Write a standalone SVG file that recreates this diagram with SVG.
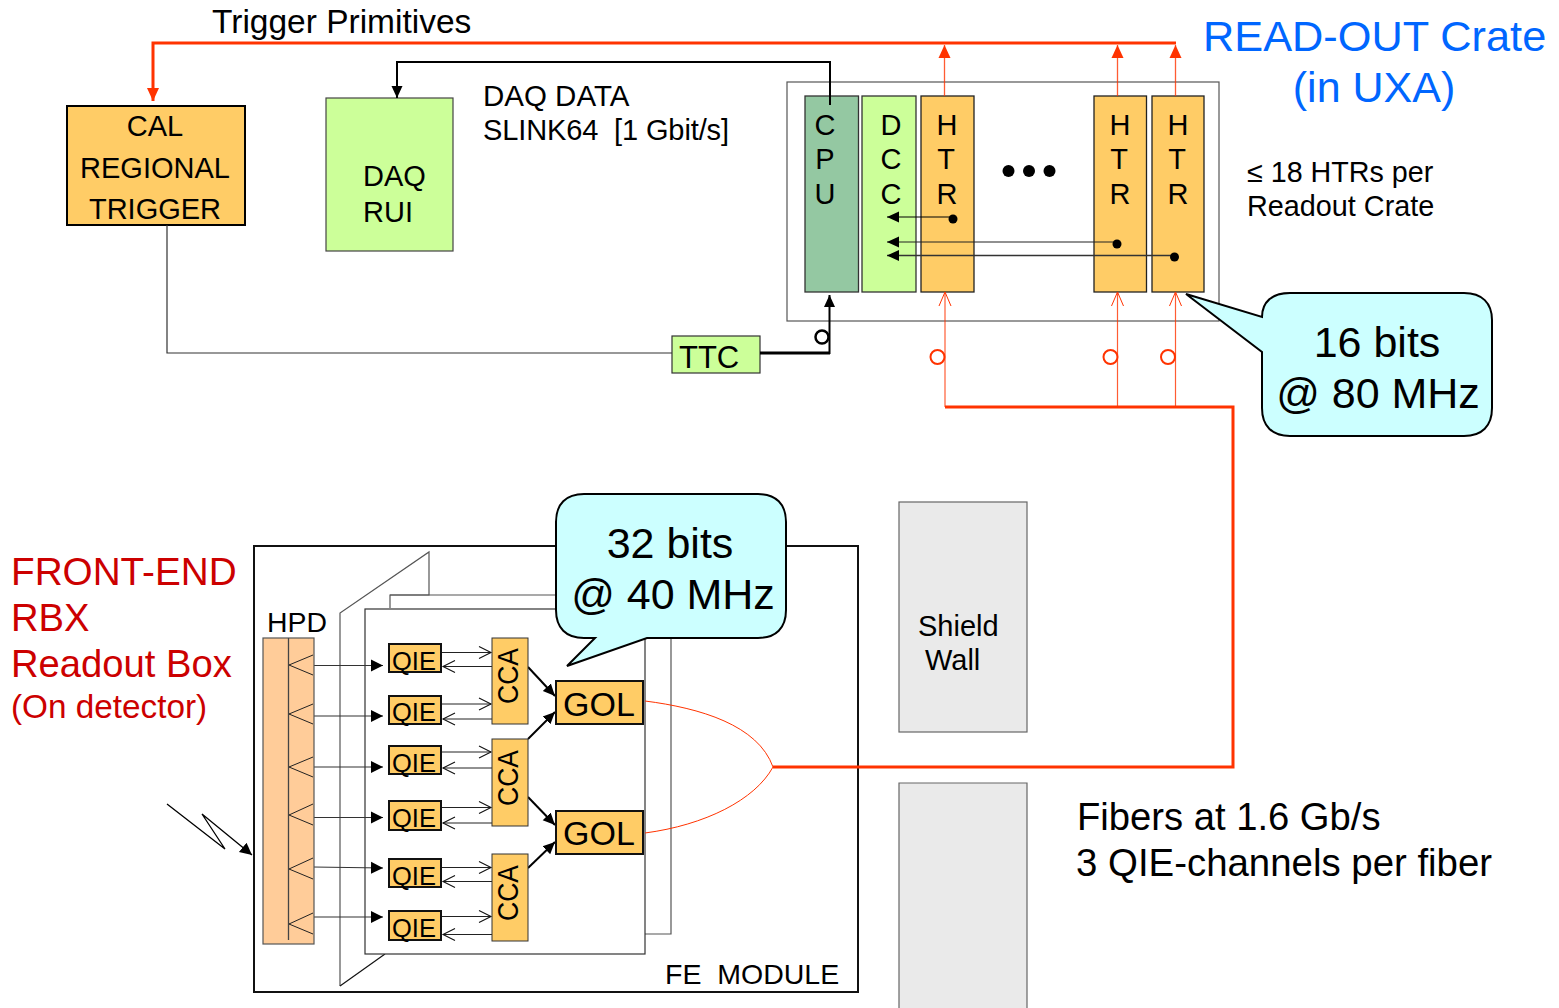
<svg xmlns="http://www.w3.org/2000/svg" width="1559" height="1008" viewBox="0 0 1559 1008">
<style>
text{font-family:"Liberation Sans",Arial,sans-serif;fill:#000}
.orange{fill:#ffcc66;stroke:#222;stroke-width:1.3}
.boxed{fill:#ffcc66;stroke:#111;stroke-width:2}
.cca{fill:#ffcc66;stroke:#333;stroke-width:1}
.gf{stroke:#555;stroke-width:1.2;fill:#fff}
.thin{stroke:#111;stroke-width:1.2;fill:none}
.red{stroke:#ff3300;fill:none}
.fan{stroke:#222;stroke-width:1;fill:none}
.s29{font-size:29px}
.bubble{fill:#ccffff;stroke:#000;stroke-width:2}
.m{text-anchor:middle}
.blue{fill:#0066ff}
.dred{fill:#cc0000}
</style>
<defs>
<marker id="ab" markerUnits="userSpaceOnUse" markerWidth="14" markerHeight="14" refX="12" refY="6.5" orient="auto"><path d="M0 0.5L12 6.5L0 12.5Z" fill="#000"/></marker>
<marker id="abs" markerUnits="userSpaceOnUse" markerWidth="14" markerHeight="14" refX="12" refY="6.5" orient="auto"><path d="M0 1L12 6.5L0 12Z" fill="#000"/></marker>
<marker id="rb" markerUnits="userSpaceOnUse" markerWidth="16" markerHeight="16" refX="13" refY="7" orient="auto"><path d="M0 1L13 7L0 13Z" fill="#ff3300"/></marker>
<marker id="ro" markerUnits="userSpaceOnUse" markerWidth="16" markerHeight="16" refX="14" refY="7" orient="auto"><path d="M0 1L14 7L0 13" fill="none" stroke="#ff3300" stroke-width="1"/></marker>
<marker id="bo" markerUnits="userSpaceOnUse" markerWidth="16" markerHeight="16" refX="13" refY="7" orient="auto"><path d="M1 1L13 7L1 13" fill="none" stroke="#111" stroke-width="1.1"/></marker>
</defs>

<g id="crate-frame"><rect x="787" y="82" width="432" height="239" class="gf"/></g>
<g id="fe-module"><rect x="254" y="546" width="604" height="446" fill="#fff" stroke="#111" stroke-width="2"/></g>
<g id="module-boards">
<path d="M340 986V613L429 552V595H390V608" class="gf"/>
<path d="M390 595H671V934H645" stroke="#555" stroke-width="1.200" fill="none"/>
<path d="M340 986L385 954" class="thin"/>
<rect x="365" y="609" width="280" height="345" fill="#fff" stroke="#333" stroke-width="1.2"/>
</g>

<g id="cal-trigger"><rect x="67" y="106" width="178" height="119" fill="#ffcc66" stroke="#000" stroke-width="2"/>
<text x="155" y="136" class="s29 m">CAL</text><text x="155" y="178" class="s29 m">REGIONAL</text><text x="155" y="219" class="s29 m">TRIGGER</text></g>
<g id="daq-rui"><rect x="326" y="98" width="127" height="153" fill="#ccff99" stroke="#444" stroke-width="1.2"/>
<text x="363" y="186" class="s29">DAQ</text><text x="363" y="222" class="s29">RUI</text></g>
<g id="ttc"><rect x="672" y="336" width="88" height="37" fill="#ccff99" stroke="#333" stroke-width="1.2"/><text x="679" y="368" font-size="31">TTC</text></g>

<g id="cpu"><rect x="805" y="96" width="53.500" height="196" fill="#94c8a2" stroke="#333" stroke-width="1.300"/>
<text x="825" y="135" class="s29 m">C</text><text x="825" y="169" class="s29 m">P</text><text x="825" y="204" class="s29 m">U</text></g>
<g id="dcc"><rect x="862" y="96" width="54" height="196" fill="#ccff99" stroke="#333" stroke-width="1.300"/>
<text x="891" y="135" class="s29 m">D</text><text x="891" y="169" class="s29 m">C</text><text x="891" y="204" class="s29 m">C</text></g>
<g id="htr-1"><rect x="921" y="96" width="53" height="196" class="orange"/>
<text x="947" y="135" class="s29 m">H</text><text x="946" y="169" class="s29 m">T</text><text x="947" y="204" class="s29 m">R</text></g>
<g id="htr-2"><rect x="1094" y="96" width="52.500" height="196" class="orange"/>
<text x="1120" y="135" class="s29 m">H</text><text x="1119" y="169" class="s29 m">T</text><text x="1120" y="204" class="s29 m">R</text></g>
<g id="htr-3"><rect x="1152" y="96" width="52" height="196" class="orange"/>
<text x="1178" y="135" class="s29 m">H</text><text x="1177" y="169" class="s29 m">T</text><text x="1178" y="204" class="s29 m">R</text></g>
<g id="dots" fill="#000"><circle cx="1008.500" cy="171" r="6"/><circle cx="1029" cy="171" r="6"/><circle cx="1049.500" cy="171" r="6"/></g>

<g id="connectors">
<path d="M1176 43H153V101" class="red" stroke-width="3" marker-end="url(#rb)"/>
<path d="M944.500 96V45" class="red" stroke-width="1.300" stroke-opacity=".8" marker-end="url(#rb)"/>
<path d="M1117.500 96V45" class="red" stroke-width="1.300" stroke-opacity=".8" marker-end="url(#rb)"/>
<path d="M1175.500 96V45" class="red" stroke-width="1.300" stroke-opacity=".8" marker-end="url(#rb)"/>
<path d="M830 105V62H397V98" stroke="#000" stroke-width="2" fill="none" marker-end="url(#abs)"/>
<path d="M167 225V353H672" stroke="#333" stroke-width="1.200" fill="none"/>
<path d="M760 353H830" stroke="#000" stroke-width="3" fill="none"/>
<path d="M829.500 354V295" stroke="#000" stroke-width="2" fill="none" marker-end="url(#abs)"/>
<circle cx="822" cy="337" r="6.500" fill="none" stroke="#000" stroke-width="2.500"/>
<path d="M953 217H887" stroke="#000" stroke-width="1.200" marker-end="url(#abs)"/><circle cx="953" cy="219" r="4.500"/>
<path d="M1117 242H887" stroke="#222" stroke-width="1.200" marker-end="url(#abs)"/><circle cx="1117" cy="244" r="4.500"/>
<path d="M1174 255.500H887" stroke="#333" stroke-width="1.300" marker-end="url(#abs)"/><circle cx="1174.500" cy="257" r="4.500"/>
<path d="M945 407V292" class="red" stroke-width="1.200" stroke-opacity=".8" marker-end="url(#ro)"/>
<path d="M1117.500 407V292" class="red" stroke-width="1.200" stroke-opacity=".8" marker-end="url(#ro)"/>
<path d="M1175.500 407V292" class="red" stroke-width="1.200" stroke-opacity=".8" marker-end="url(#ro)"/>
<g class="red" stroke-width="2"><circle cx="937.500" cy="357" r="7"/><circle cx="1110.500" cy="357" r="7"/><circle cx="1168" cy="357" r="7"/></g>
<path d="M945 407H1233V767H773" class="red" stroke-width="3"/>
<path d="M645 701C700 708 758 725 773 767C755 800 705 825 645 833" class="red" stroke-width="1"/>
<path d="M167 804L225 849L202 814L252 855" fill="none" stroke="#000" stroke-width="1.300" marker-end="url(#ab)"/>
<g stroke="#333" stroke-width="1.200" fill="none" marker-end="url(#ab)">
<path d="M313 665.500H383"/><path d="M313 716H383"/><path d="M313 767H383"/><path d="M313 817.500H383"/><path d="M313 867L383 868"/><path d="M313 917H383"/>
</g>
<g stroke="#222" stroke-width="1" fill="none">
<path d="M442 652.500H491" marker-end="url(#bo)"/><path d="M492 666.500H443" marker-end="url(#bo)"/>
<path d="M442 704H491" marker-end="url(#bo)"/><path d="M492 719H443" marker-end="url(#bo)"/>
<path d="M442 752H491" marker-end="url(#bo)"/><path d="M492 768H443" marker-end="url(#bo)"/>
<path d="M442 807.500H491" marker-end="url(#bo)"/><path d="M492 823H443" marker-end="url(#bo)"/>
<path d="M442 867.500H491" marker-end="url(#bo)"/><path d="M492 881.500H443" marker-end="url(#bo)"/>
<path d="M442 916.500H491" marker-end="url(#bo)"/><path d="M492 934.500H443" marker-end="url(#bo)"/>
</g>
<g stroke="#000" stroke-width="2" fill="none" marker-end="url(#abs)">
<path d="M528 667L555 696"/><path d="M528 739L555 712"/><path d="M528 797L555 825"/><path d="M528 868L555 842"/>
</g>
</g>

<g id="hpd"><rect x="263" y="638" width="51" height="306" fill="#ffcc99" stroke="#555" stroke-width="1.200"/><path d="M288.500 638V940" stroke="#444" stroke-width="1.300"/>
<g class="fan"><path d="M313 655L289 665L313 675"/><path d="M313 704L289 714L313 724"/><path d="M313 757L289 767L313 777"/><path d="M313 804L289 815L313 825"/><path d="M313 858L289 869L313 879"/><path d="M313 913L289 924L313 934"/></g>
<text x="267" y="632" font-size="28.400">HPD</text></g>

<g id="qie-1"><rect x="389" y="644" width="52" height="28" class="boxed"/><text x="392" y="670" font-size="25.500">QIE</text></g>
<g id="qie-2"><rect x="389" y="696" width="52" height="28" class="boxed"/><text x="392" y="721" font-size="25.500">QIE</text></g>
<g id="qie-3"><rect x="389" y="746" width="52" height="28" class="boxed"/><text x="392" y="772" font-size="25.500">QIE</text></g>
<g id="qie-4"><rect x="389" y="801" width="52" height="29" class="boxed"/><text x="392" y="827" font-size="25.500">QIE</text></g>
<g id="qie-5"><rect x="389" y="859" width="52" height="28" class="boxed"/><text x="392" y="885" font-size="25.500">QIE</text></g>
<g id="qie-6"><rect x="389" y="911" width="52" height="29" class="boxed"/><text x="392" y="937" font-size="25.500">QIE</text></g>

<g id="cca-1"><rect x="492" y="638" width="36" height="86" class="cca"/><text transform="translate(518 704) rotate(-90)" class="s29" textLength="56" lengthAdjust="spacingAndGlyphs">CCA</text></g>
<g id="cca-2"><rect x="492" y="739" width="36" height="87" class="cca"/><text transform="translate(518 806) rotate(-90)" class="s29" textLength="56" lengthAdjust="spacingAndGlyphs">CCA</text></g>
<g id="cca-3"><rect x="492" y="854" width="36" height="87" class="cca"/><text transform="translate(518 921) rotate(-90)" class="s29" textLength="56" lengthAdjust="spacingAndGlyphs">CCA</text></g>

<g id="gol-1"><rect x="556" y="681" width="87" height="43" class="boxed"/><text x="563" y="716" font-size="34">GOL</text></g>
<g id="gol-2"><rect x="556" y="811" width="87" height="43" class="boxed"/><text x="563" y="845" font-size="34">GOL</text></g>

<g id="callout-16"><path d="M1186 294L1262 317C1262 302 1272 293 1290 293H1464C1482 293 1492 303 1492 320V408C1492 426 1482 436 1464 436H1290C1272 436 1262 426 1262 408V352Z" class="bubble"/>
<text x="1377" y="357" font-size="43" class="m">16 bits</text><text x="1378" y="408" font-size="43" class="m">@ 80 MHz</text></g>
<g id="callout-32"><path d="M567 666L595 638H584C566 638 556 628 556 610V522C556 504 566 494 584 494H758C776 494 786 504 786 522V610C786 628 776 638 758 638H647Z" class="bubble"/>
<text x="670" y="558" font-size="43" class="m">32 bits</text><text x="673" y="609" font-size="43" class="m">@ 40 MHz</text></g>

<g id="shield-wall"><rect x="899" y="502" width="128" height="230" fill="#eaeaea" stroke="#666" stroke-width="1.200"/>
<path d="M899 1008V783H1027V1008" fill="#eaeaea" stroke="#666" stroke-width="1.200"/>
<text x="918" y="636" font-size="29">Shield</text><text x="925" y="670" font-size="29">Wall</text></g>

<g id="labels">
<text x="212" y="33" font-size="33.500">Trigger Primitives</text>
<text x="483" y="106" font-size="29.500">DAQ DATA</text><text x="483" y="140" font-size="29" xml:space="preserve" textLength="246">SLINK64  [1 Gbit/s]</text>
<text x="1203" y="51" font-size="43.300" class="blue">READ-OUT Crate</text><text x="1374" y="102" font-size="43" class="m blue">(in UXA)</text>
<text x="1247" y="182" font-size="28.700">≤ 18 HTRs per</text><text x="1247" y="216" font-size="28.800">Readout Crate</text>
<text x="11" y="585" font-size="38.700" class="dred">FRONT-END</text><text x="11" y="631" font-size="38.200" class="dred">RBX</text><text x="11" y="677" font-size="38.200" class="dred">Readout Box</text><text x="11" y="718" font-size="33.300" class="dred">(On detector)</text>
<text x="665" y="984" font-size="28.500" xml:space="preserve">FE  MODULE</text>
<text x="1077" y="830" font-size="38.200">Fibers at 1.6 Gb/s</text><text x="1076" y="876" font-size="38.400">3 QIE-channels per fiber</text>
</g>
</svg>
